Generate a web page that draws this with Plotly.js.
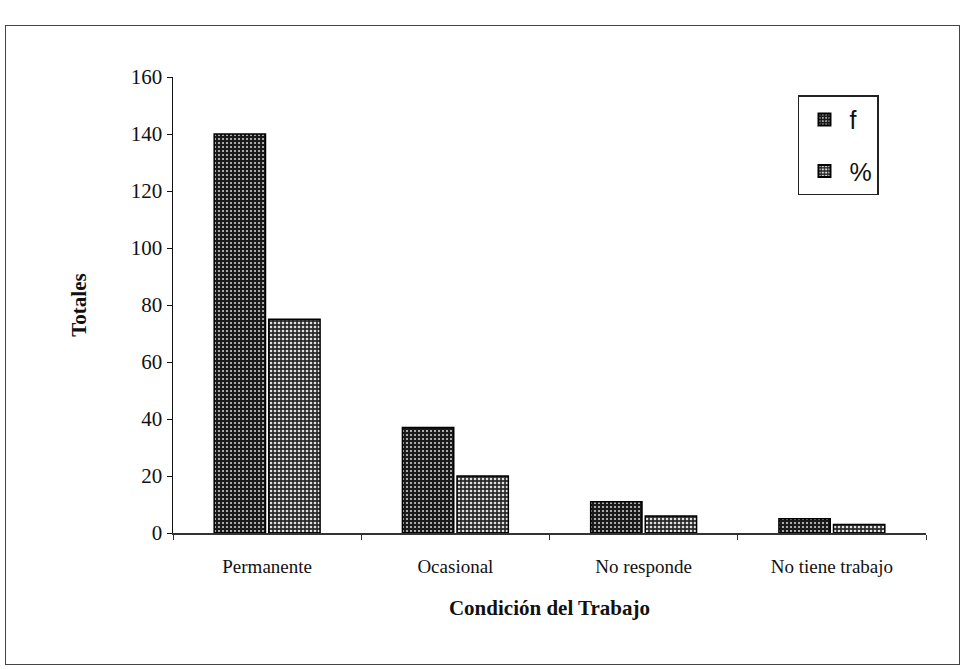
<!DOCTYPE html>
<html>
<head>
<meta charset="utf-8">
<script src="https://cdn.plot.ly/plotly-3.0.1.min.js"></script>
<style>
  html, body { margin: 0; padding: 0; background: #fff; }
  #frame { position: absolute; left: 5px; top: 25px; width: 953px; height: 638px; border: 1px solid #444; }
  #chart { width: 953px; height: 638px; }
</style>
</head>
<body>
<div id="frame"><div id="chart"></div></div>
<script>
const categories = ["Permanente", "Ocasional", "No responde", "No tiene trabajo"];
const seriesF = [140, 37, 11, 5];
const seriesPct = [75, 20, 6, 3];
const yTicks = [0, 20, 40, 60, 80, 100, 120, 140, 160];

const serif = "Liberation Serif, Times New Roman, serif";

const traces = [
  {
    type: "bar", name: "f", legendgroup: "g1", x: categories, y: seriesF,
    marker: {
      color: "#1a1a1a",
      line: { color: "#000", width: 1.5 },
      pattern: { shape: ".", fgcolor: "#cfcfcf", bgcolor: "#1a1a1a", size: 4, solidity: 0.22 }
    }
  },
  {
    type: "bar", name: "%", legendgroup: "g2", x: categories, y: seriesPct,
    marker: {
      color: "#2a2a2a",
      line: { color: "#000", width: 1.5 },
      pattern: { shape: ".", fgcolor: "#e0e0e0", bgcolor: "#2a2a2a", size: 4, solidity: 0.34 }
    }
  }
];

const layout = {
  width: 953, height: 638,
  margin: { l: 167, r: 33, t: 51, b: 131 },
  paper_bgcolor: "#fff", plot_bgcolor: "#fff",
  barmode: "group", bargap: 0.42, bargroupgap: 0.06,
  showlegend: true,
  legend: {
    x: 0.83, y: 0.96, xanchor: "left", yanchor: "top",
    bordercolor: "#222", borderwidth: 1.5, bgcolor: "#fff",
    font: { family: "Liberation Sans, Arial, sans-serif", size: 25, color: "#111" },
    tracegroupgap: 16, itemwidth: 40, entrywidth: 105,
    itemsizing: "constant"
  },
  xaxis: {
    type: "category",
    showline: true, linecolor: "#333", linewidth: 1.5,
    ticks: "outside", tickson: "boundaries", ticklen: 5, tickcolor: "#333",
    ticklabelstandoff: 16,
    tickfont: { family: serif, size: 19, color: "#111" },
    title: { text: "Condición del Trabajo", font: { family: serif, size: 21, color: "#111", weight: "bold" }, standoff: 24 },
    showgrid: false
  },
  yaxis: {
    range: [0, 160], tickvals: yTicks, ticktext: yTicks.map(String),
    showline: true, linecolor: "#111", linewidth: 1.5,
    ticks: "outside", ticklen: 5, tickcolor: "#111",
    tickfont: { family: serif, size: 21, color: "#111" },
    title: { text: "Totales", font: { family: serif, size: 21, color: "#111", weight: "bold" }, standoff: 38 },
    showgrid: false, zeroline: false
  }
};

Plotly.newPlot("chart", traces, layout, { displayModeBar: false, staticPlot: true });
</script>
</body>
</html>
